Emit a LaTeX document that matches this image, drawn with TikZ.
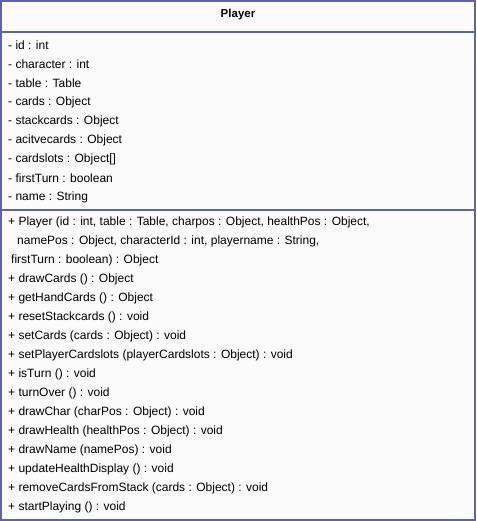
\documentclass[tikz,border=0pt]{standalone}
\usepackage{fontspec}
\setmainfont{Liberation Sans}
\definecolor{umlborder}{HTML}{6262A2}
\definecolor{umlfill}{HTML}{FBFBFB}
\begin{document}
\begin{tikzpicture}[x=1pt,y=-1pt,
  member/.style={anchor=west,inner sep=0pt,font=\fontsize{12}{14}\selectfont},
  title/.style={inner sep=0pt,font=\fontsize{11.5}{14}\selectfont\bfseries},
  frame/.style={draw=umlborder,line width=2.4pt}]
\useasboundingbox (0,0) rectangle (476,521);
% class box with its three compartments
\fill[umlfill] (1,1) rectangle (475,520);
\node[title] (name) at (238,15) {Player};
\draw[frame] (1,32) -- (475,32);
\draw[frame] (1,210) -- (475,210);
\draw[frame] (1.2,1.2) rectangle (474.8,519.8);
% attributes
\foreach \t [count=\i from 0] in {
  - id : int,
  - character : int,
  - table : Table,
  - cards : Object,
  - stackcards : Object,
  - acitvecards : Object,
  - cardslots : Object[],
  - firstTurn : boolean,
  - name : String}
  \node[member] (attr\i) at (8,45+19*\i) {\t};
% operations
\node[member] (op0) at (8,222) {+ Player (id : int, table : Table, charpos : Object, healthPos : Object,};
\node[member] (op1) at (17,241) {namePos : Object, characterId : int, playername : String,};
\node[member] (op2) at (11,260) {firstTurn : boolean) : Object};
\foreach \t [count=\i from 3] in {
  + drawCards () : Object,
  + getHandCards () : Object,
  + resetStackcards () : void,
  + setCards (cards : Object) : void,
  + setPlayerCardslots (playerCardslots : Object) : void,
  + isTurn () : void,
  + turnOver () : void,
  + drawChar (charPos : Object) : void,
  + drawHealth (healthPos : Object) : void,
  + drawName (namePos) : void,
  + updateHealthDisplay () : void,
  + removeCardsFromStack (cards : Object) : void,
  + startPlaying () : void}
  \node[member] (op\i) at (8,222+19*\i) {\t};
\end{tikzpicture}
\end{document}
